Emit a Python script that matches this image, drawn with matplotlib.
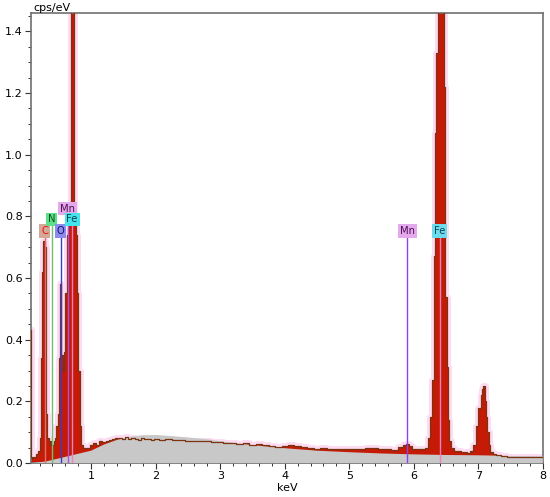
import numpy as np
import matplotlib
matplotlib.use("Agg")
import matplotlib.pyplot as plt
from matplotlib.ticker import MultipleLocator

energy = [0.07, 0.075, 0.09, 0.12, 0.16, 0.19, 0.21, 0.23, 0.25, 0.27, 0.29,
          0.31, 0.33, 0.35, 0.37, 0.39, 0.41, 0.43, 0.45, 0.47, 0.49, 0.51,
          0.53, 0.55, 0.57, 0.59, 0.61, 0.63, 0.65, 0.67, 0.69, 0.71, 0.73,
          0.75, 0.77, 0.79, 0.81, 0.83, 0.85,
          0.90, 0.95, 1.00, 1.05, 1.10, 1.15, 1.20, 1.25, 1.30, 1.35, 1.40,
          1.45, 1.50, 1.55, 1.60, 1.65, 1.70, 1.75, 1.80, 1.85, 1.90, 1.95,
          2.00, 2.10, 2.20, 2.30, 2.40, 2.50, 2.60, 2.70, 2.80, 2.90, 3.00,
          3.10, 3.20, 3.30, 3.40, 3.50, 3.60, 3.70, 3.80, 3.90, 4.00, 4.10,
          4.20, 4.30, 4.40, 4.50, 4.60, 4.70, 4.80, 4.90, 5.00, 5.10, 5.20,
          5.30, 5.40, 5.50, 5.60, 5.70, 5.80, 5.85, 5.90, 5.95, 6.00, 6.05,
          6.10, 6.15, 6.20, 6.24, 6.27, 6.30, 6.32, 6.34, 6.36, 6.38, 6.40,
          6.42, 6.44, 6.46, 6.48, 6.50, 6.52, 6.54, 6.56, 6.60, 6.65, 6.70,
          6.75, 6.80, 6.85, 6.90, 6.94, 6.98, 7.02, 7.05, 7.07, 7.09, 7.11,
          7.13, 7.15, 7.17, 7.20, 7.25, 7.30, 7.40, 7.50, 7.60, 7.70, 7.80,
          7.90, 8.00]
cps = [0.43, 0.02, 0.015, 0.02, 0.03, 0.04, 0.08, 0.34, 0.62, 0.72, 0.70,
       0.16, 0.08, 0.07, 0.06, 0.07, 0.06, 0.07, 0.08, 0.12, 0.16, 0.34,
       0.58, 0.35, 0.30, 0.36, 0.55, 0.74, 0.76, 0.78, 1.90, 2.40, 1.70,
       0.80, 0.74, 0.55, 0.30, 0.12, 0.06,
       0.05, 0.05, 0.06, 0.065, 0.06, 0.07, 0.068, 0.072, 0.075, 0.078, 0.08,
       0.082, 0.079, 0.083, 0.078, 0.082, 0.079, 0.076, 0.08, 0.077, 0.079,
       0.076, 0.078, 0.075, 0.077, 0.074, 0.076, 0.073, 0.072, 0.07, 0.071,
       0.068, 0.067, 0.066, 0.064, 0.062, 0.065, 0.06, 0.061, 0.058, 0.054,
       0.052, 0.056, 0.057, 0.055, 0.053, 0.05, 0.047, 0.049, 0.046, 0.047,
       0.045, 0.046, 0.047, 0.045, 0.048, 0.049, 0.044, 0.045, 0.043, 0.052,
       0.06, 0.062, 0.055, 0.046, 0.044, 0.046, 0.045, 0.05, 0.08, 0.15,
       0.27, 0.67, 1.07, 1.33, 2.6, 3.2, 3.1, 2.2, 1.6, 1.22, 0.54, 0.31,
       0.14, 0.07, 0.05, 0.04, 0.038, 0.035, 0.036, 0.034, 0.04, 0.06, 0.12,
       0.18, 0.22, 0.24, 0.25, 0.20, 0.15, 0.10, 0.06, 0.035, 0.03, 0.025,
       0.022, 0.02, 0.021, 0.019, 0.02, 0.018, 0.02]

# fitted background continuum
bg_energy = [0.07, 0.3, 0.5, 0.7, 0.9, 1.0, 1.2, 1.4, 1.6, 1.8, 2.0, 2.2, 2.5,
             2.8, 3.0, 3.3, 3.6, 4.0, 4.5, 5.0, 5.5, 6.0, 6.5, 7.0, 7.5, 8.0]
bg_cps = [0.0, 0.005, 0.015, 0.025, 0.035, 0.04, 0.06, 0.075, 0.085, 0.09,
          0.091, 0.088, 0.083, 0.077, 0.071, 0.063, 0.056, 0.048, 0.04, 0.035,
          0.031, 0.028, 0.026, 0.025, 0.023, 0.022]

# element line markers
elements = ["C", "N", "O", "Mn", "Fe", "Mn", "Fe"]
line_kev = [0.277, 0.392, 0.525, 0.637, 0.705, 5.899, 6.404]
label_y = [0.753, 0.79, 0.753, 0.825, 0.79, 0.752, 0.752]
box_colors = ["#d4a894", "#5ee08a", "#8c8cf0", "#e4a8ec", "#44e4ec", "#e4a8ec", "#6cdcec"]
text_colors = ["#e01010", "#105020", "#101060", "#501050", "#104050", "#501050", "#104050"]
line_colors = ["#e07070", "#70c070", "#3a3ad0", "#b050e0", "#f080c0", "#9040f0", "#f080c0"]

fig = plt.figure(figsize=(5.5, 4.97), dpi=100)
ax = fig.add_axes([0.0564, 0.0684, 0.9306, 0.9056])

ax.fill_between(energy, cps, step="mid", facecolor="#fddcf2",
                edgecolor="#fddcf2", linewidth=5, zorder=1)
ax.fill_between(energy, cps, step="mid", facecolor="#c41a06",
                linewidth=0, zorder=2)
ax.fill_between(bg_energy, bg_cps, facecolor="#c8c8c8",
                linewidth=0, zorder=3)
ax.plot(energy, cps, drawstyle="steps-mid", color="#7a3410", lw=0.9, zorder=4)

for name, e, ly, bc, tc, lc in zip(elements, line_kev, label_y,
                                   box_colors, text_colors, line_colors):
    ax.plot([e, e], [0, ly - 0.02], color=lc, lw=1.0, zorder=5)
    ax.text(e, ly, name, ha="center", va="center", fontsize=7.2, color=tc,
            zorder=6,
            bbox=dict(boxstyle="square,pad=0.18", facecolor=bc,
                      edgecolor="none"))

ax.set_xlim(0.068, 8)
ax.set_ylim(0, 1.46)
ax.xaxis.set_major_locator(MultipleLocator(1))
ax.xaxis.set_minor_locator(MultipleLocator(0.2))
ax.yaxis.set_major_locator(MultipleLocator(0.2))
ax.yaxis.set_minor_locator(MultipleLocator(0.05))
ax.set_xticks([1, 2, 3, 4, 5, 6, 7, 8])
ax.yaxis.set_major_formatter(plt.FuncFormatter(lambda v, p: f"{v:.1f}"))
ax.tick_params(which="major", length=4, width=0.8, color="#333333",
               labelsize=8, pad=2)
ax.tick_params(which="minor", length=2.5, width=0.7, color="#333333")
for s in ax.spines.values():
    s.set_color("#707070")
    s.set_linewidth(1.2)

ax.set_xlabel("keV", fontsize=8, labelpad=1)
ax.text(0.004, 1.0, "cps/eV", transform=ax.transAxes, ha="left",
        va="bottom", fontsize=8)

fig.savefig("out.png", dpi=100)
